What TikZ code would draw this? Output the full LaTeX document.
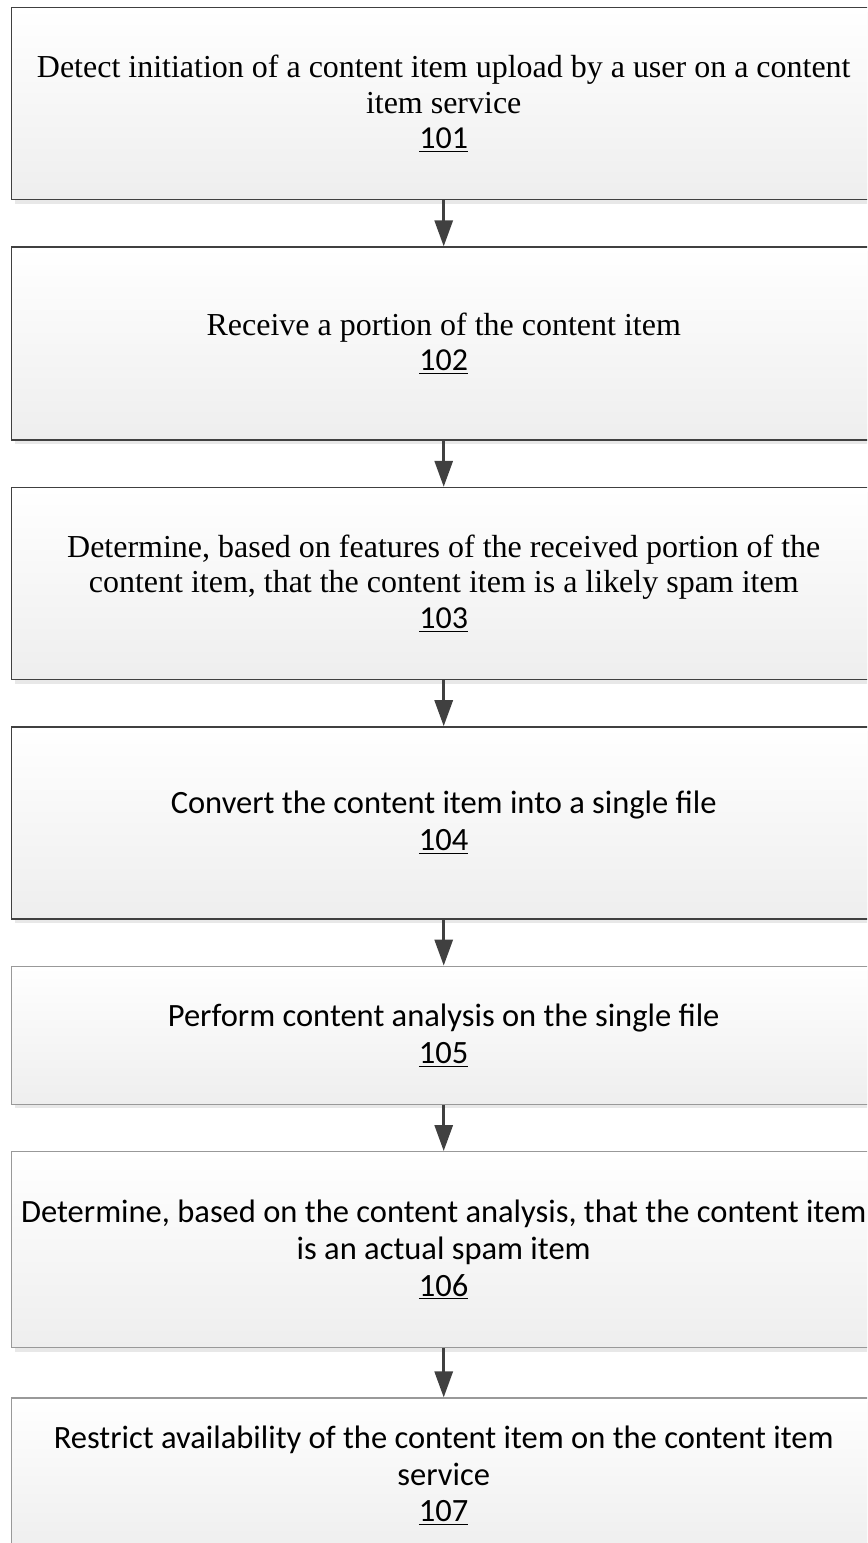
\documentclass[tikz,border=0pt]{standalone}
\usepackage{fontspec}
\setmainfont{Liberation Serif}
\newfontfamily\calibri{Carlito}
\usepackage{tikz}
\usetikzlibrary{arrows.meta, positioning, shadows}

\definecolor{boxline}{HTML}{404040}
\definecolor{boxgrey}{HTML}{999999}
\definecolor{boxshade}{HTML}{EEEEEE}

\tikzset{
	stepbox/.style={draw=boxline, line width=0.8pt, top color=white, bottom color=boxshade,
		minimum width=17.28cm, align=center, inner sep=0pt,
		font=\fontsize{18.2}{20.4}\selectfont,
		drop shadow={shadow xshift=0.07cm, shadow yshift=-0.08cm, fill=black!9, opacity=1}},
	stepsans/.style={stepbox, font=\calibri\fontsize{18.5}{21}\selectfont},
	stepgrey/.style={stepsans, draw=boxgrey},
	flow/.style={-{Triangle[width=0.36cm, length=0.52cm]}, draw=boxline, line width=1.7pt},
}
\newcommand{\stepnum}[1]{{\calibri\underline{#1}}}

\begin{document}
\begin{tikzpicture}[node distance=0.92cm]
	\clip (0,0) rectangle (17.34,-30.86);
	% Steps:
	\node[stepbox, minimum height=3.84cm, anchor=north west] (detect) at (0.22,-0.14)
		{Detect initiation of a content item upload by a user on a content\\item service\\\stepnum{101}};
	\node[stepbox, minimum height=3.86cm, below=of detect] (receive)
		{Receive a portion of the content item\\\stepnum{102}};
	\node[stepbox, minimum height=3.84cm, below=of receive] (likely)
		{Determine, based on features of the received portion of the\\content item, that the content item is a likely spam item\\\stepnum{103}};
	\node[stepsans, minimum height=3.84cm, below=of likely] (convert)
		{Convert the content item into a single file\\\stepnum{104}};
	\node[stepgrey, minimum height=2.76cm, below=of convert] (analyse)
		{Perform content analysis on the single file\\\stepnum{105}};
	\node[stepgrey, minimum height=3.92cm, below=of analyse] (actual)
		{Determine, based on the content analysis, that the content item\\is an actual spam item\\\stepnum{106}};
	\node[stepgrey, minimum height=3.1cm, below=0.98cm of actual] (restrict)
		{Restrict availability of the content item on the content item\\service\\\stepnum{107}};
	% Arrows:
	\draw[flow] (detect) -- (receive);
	\draw[flow] (receive) -- (likely);
	\draw[flow] (likely) -- (convert);
	\draw[flow] (convert) -- (analyse);
	\draw[flow] (analyse) -- (actual);
	\draw[flow] (actual) -- (restrict);
\end{tikzpicture}
\end{document}
